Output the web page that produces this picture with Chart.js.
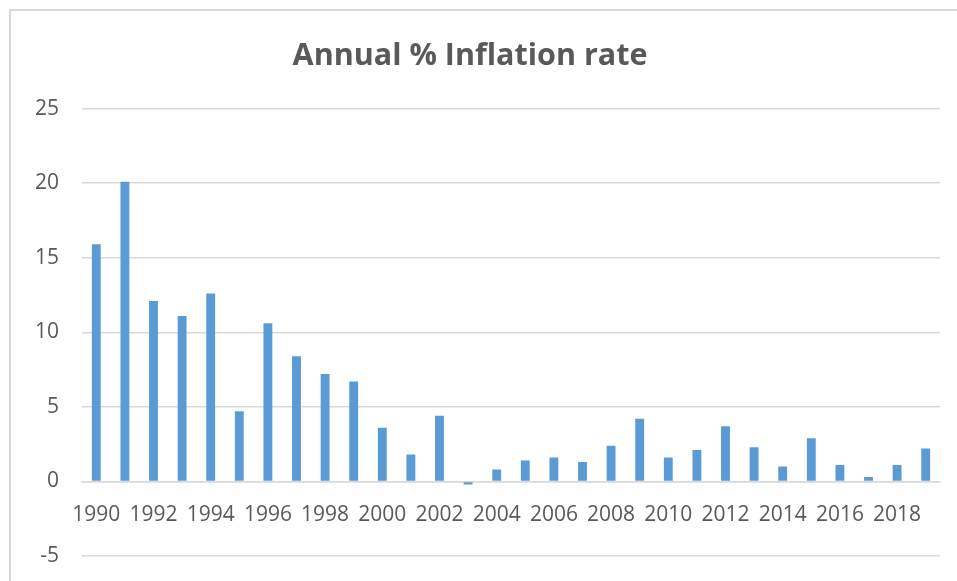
<!DOCTYPE html>
<html>
<head>
<meta charset="utf-8">
<title>Annual % Inflation rate</title>
<script src="https://cdn.jsdelivr.net/npm/chart.js@4"></script>
<style>
    html, body { margin: 0; padding: 0; background: #ffffff; }
    #wrap { width: 957px; height: 581px; position: relative; }
</style>
</head>
<body>
<div id="wrap"><canvas id="inflationChart" width="957" height="581"></canvas></div>
<script>
// years on the x axis
let years = ['1990', '1991', '1992', '1993', '1994', '1995', '1996', '1997', '1998', '1999',
    '2000', '2001', '2002', '2003', '2004', '2005', '2006', '2007', '2008', '2009',
    '2010', '2011', '2012', '2013', '2014', '2015', '2016', '2017', '2018', '2019'];

// annual inflation, %
let inflation = [15.9, 20.1, 12.1, 11.1, 12.6, 4.7, 10.6, 8.4, 7.2, 6.7,
    3.6, 1.8, 4.4, -0.2, 0.8, 1.4, 1.6, 1.3, 2.4, 4.2,
    1.6, 2.1, 3.7, 2.3, 1.0, 2.9, 1.1, 0.3, 1.1, 2.2];

const gray = '#595959';
const gridGray = '#d9d9d9';
const font = "'Open Sans', sans-serif";

// thin frame round the chart
const frame = {
    id: 'frame',
    beforeDraw(chart) {
        const ctx = chart.ctx;
        ctx.save();
        ctx.strokeStyle = gridGray;
        ctx.lineWidth = 2;
        ctx.strokeRect(10, 10, 2000, 2000);
        ctx.restore();
    }
};

let plot = () => {
    const ctx = document.getElementById('inflationChart');

    const dataset = {
        labels: years,
        datasets: [{
            label: 'Inflation',
            data: inflation,
            backgroundColor: '#5b9bd5',
            borderWidth: 0,
            categoryPercentage: 1,
            barPercentage: 0.31
        }]
    };

    const config = {
        type: 'bar',
        data: dataset,
        plugins: [frame],
        options: {
            responsive: false,
            animation: false,
            layout: {
                padding: { top: 0, bottom: 25, left: 0, right: 17 }
            },
            plugins: {
                legend: { display: false },
                tooltip: { enabled: false },
                title: {
                    display: true,
                    text: 'Annual % Inflation rate',
                    color: gray,
                    font: { family: font, size: 30.5, weight: 'bold' },
                    padding: { top: 38, bottom: 34 }
                }
            },
            scales: {
                x: {
                    // axis sits on the zero line, labels hang below it
                    position: { y: 0 },
                    afterFit: (scale) => { scale.height = 0; },
                    grid: { display: false, drawTicks: false },
                    border: { color: gridGray, width: 1.5 },
                    ticks: {
                        color: gray,
                        font: { family: font, size: 21 },
                        padding: 21,
                        autoSkip: false,
                        maxRotation: 0,
                        callback: function (value, index) {
                            return index % 2 === 0 ? this.getLabelForValue(value) : '';
                        }
                    }
                },
                y: {
                    min: -5,
                    max: 25,
                    afterFit: (scale) => {
                        scale.width = 82;
                        // tick padding should not eat into the bottom margin
                        scale.paddingBottom = 0;
                    },
                    grid: { color: gridGray, lineWidth: 1.5, drawTicks: false },
                    border: { display: false },
                    ticks: {
                        stepSize: 5,
                        color: gray,
                        font: { family: font, size: 21 },
                        padding: 23
                    }
                }
            }
        }
    };

    const chart = new Chart(ctx, config);
};

plot();
</script>
</body>
</html>
